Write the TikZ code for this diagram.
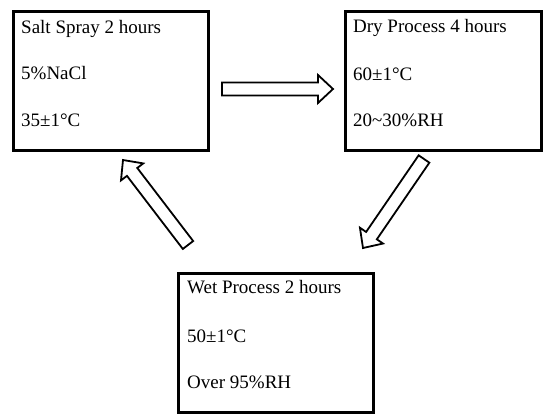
\documentclass[tikz,border=0pt]{standalone}
\usepackage{fontspec}
\setmainfont{Liberation Serif}
\usetikzlibrary{calc}
\tikzset{
  box/.style={draw=black, line width=2.6pt, rectangle, inner sep=0pt, anchor=north west, minimum width=195pt, minimum height=139pt},
  txt/.style={anchor=base west, inner sep=0pt, font=\fontsize{19}{22}\selectfont},
  blockarrowline/.style={draw=black, line width=1.8pt, fill=white, line join=miter}
}
\newcommand\blockarrow[2]{%
  \coordinate (hb) at ($(#2)!15pt!(#1)$);
  \draw[blockarrowline]
    ($(#1)!6.5pt!90:(#2)$) -- ($(hb)!6.5pt!-90:(#1)$) -- ($(hb)!14pt!-90:(#1)$) -- (#2)
    -- ($(hb)!14pt!90:(#1)$) -- ($(hb)!6.5pt!90:(#1)$) -- ($(#1)!6.5pt!-90:(#2)$) -- cycle;
}
\begin{document}
\begin{tikzpicture}[x=1pt,y=-1pt]
\useasboundingbox (0,0) rectangle (550,420);
\node[box] (salt) at (12,10) {};
\node[box, minimum width=196pt] (dry) at (344,10) {};
\node[box] (wet) at (177,272) {};

\node[txt] (s1) at ($(salt.north west)+(9,24)$) {Salt Spray 2 hours};
\node[txt] (s2) at ($(salt.north west)+(9,70)$) {5\%NaCl};
\node[txt] (s3) at ($(salt.north west)+(9,117)$) {35±1°C};

\node[txt] (d1) at ($(dry.north west)+(9,23)$) {Dry Process 4 hours};
\node[txt] (d2) at ($(dry.north west)+(9,71)$) {60±1°C};
\node[txt] (d3) at ($(dry.north west)+(9,117)$) {20\textasciitilde30\%RH};

\node[txt] (w1) at ($(wet.north west)+(10,22)$) {Wet Process 2 hours};
\node[txt] (w2) at ($(wet.north west)+(10,70)$) {50±1°C};
\node[txt] (w3) at ($(wet.north west)+(10,116)$) {Over 95\%RH};

\coordinate (a1t) at (222,89);
\coordinate (a1h) at (333,89);
\coordinate (a2t) at (424,159);
\coordinate (a2h) at (363,248);
\coordinate (a3t) at (188,245);
\coordinate (a3h) at (123,160);
\blockarrow{a1t}{a1h}
\blockarrow{a2t}{a2h}
\blockarrow{a3t}{a3h}
\end{tikzpicture}
\end{document}
